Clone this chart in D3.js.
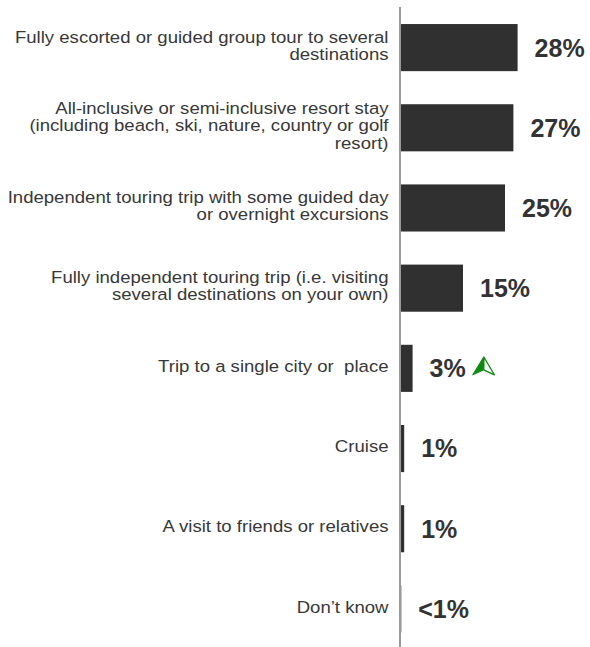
<!DOCTYPE html>
<html>
<head>
<meta charset="utf-8">
<script src="https://cdn.jsdelivr.net/npm/d3@7"></script>
<style>
  html, body { margin: 0; padding: 0; background: #fff; }
  svg { display: block; }
  text { font-family: "Liberation Sans", Arial, sans-serif; }
</style>
</head>
<body>
<script>
// Preferred type of trip, share of respondents
const categories = [
  "Fully escorted or guided group tour to several\ndestinations",
  "All-inclusive or semi-inclusive resort stay\n(including beach, ski, nature, country or golf\nresort)",
  "Independent touring trip with some guided day\nor overnight excursions",
  "Fully independent touring trip (i.e. visiting\nseveral destinations on your own)",
  "Trip to a single city or  place",
  "Cruise",
  "A visit to friends or relatives",
  "Don\u2019t know"
];
const values = [28, 27, 25, 15, 3, 1, 1, 0.3];
const valueLabels = ["28%", "27%", "25%", "15%", "3%", "1%", "1%", "<1%"];
const trendUp = [false, false, false, false, true, false, false, false];

const width = 590, height = 647;
const svg = d3.select("body").append("svg")
  .attr("width", width).attr("height", height);

const x = d3.scaleLinear().domain([0, 28]).range([400, 517.6]);
const y = d3.scaleBand()
  .domain(d3.range(categories.length))
  .range([7.5, 649])
  .paddingInner(0.4125)
  .paddingOuter(0.20625);

const rows = svg.append("g").selectAll("g")
  .data(categories.map((c, i) => ({ label: c, value: values[i], text: valueLabels[i], up: trendUp[i], i })))
  .join("g");

// bars
rows.append("rect")
  .attr("x", x(0))
  .attr("y", d => y(d.i))
  .attr("width", d => x(d.value) - x(0))
  .attr("height", y.bandwidth())
  .attr("fill", "#303030");

// category labels, right-aligned against the axis (slightly wide face)
const fs = 17.2, lh = 17.3;
rows.append("text")
  .attr("text-anchor", "end")
  .attr("font-size", fs)
  .attr("fill", "#383838")
  .attr("transform", "translate(388.5,0) scale(1.08,1)")
  .style("white-space", "pre")
  .each(function (d) {
    const lines = d.label.split("\n");
    const cy = y(d.i) + y.bandwidth() / 2;
    const first = cy - 2.5 - (lines.length - 1) * lh / 2 + 0.358 * fs;
    d3.select(this).selectAll("tspan")
      .data(lines)
      .join("tspan")
      .attr("x", 0)
      .attr("y", (t, k) => first + k * lh)
      .text(t => t);
  });

// value labels
const vfs = 25;
rows.append("text")
  .attr("class", "val")
  .attr("x", d => x(d.value) + 17)
  .attr("y", d => y(d.i) + y.bandwidth() / 2 + 0.358 * vfs)
  .attr("font-size", vfs)
  .attr("font-weight", "bold")
  .attr("fill", "#333")
  .text(d => d.text);

// upward trend marker
rows.filter(d => d.up).each(function (d) {
  const t = d3.select(this).select("text.val").node();
  const x0 = x(d.value) + 17 + t.getComputedTextLength() + 7;
  const cy = y(d.i) + y.bandwidth() / 2;
  const apex = [x0 + 11, cy - 11.5], left = [x0, cy + 6.5],
        right = [x0 + 21.7, cy + 6.5], notch = [x0 + 11, cy + 1.5];
  const g = d3.select(this).append("g");
  g.append("path")
    .attr("d", d3.line()([apex, notch, right, apex]))
    .attr("fill", "#ffffff")
    .attr("stroke", "#118a11")
    .attr("stroke-width", 1.2)
    .attr("stroke-linejoin", "round");
  g.append("path")
    .attr("d", d3.line()([apex, left, notch]) + "Z")
    .attr("fill", "#0c8a0c")
    .attr("stroke", "#0c8a0c")
    .attr("stroke-width", 1)
    .attr("stroke-linejoin", "round");
});

// vertical axis line
svg.append("line")
  .attr("x1", 400).attr("x2", 400)
  .attr("y1", 7).attr("y2", height)
  .attr("stroke", "#999")
  .attr("stroke-width", 2);
</script>
</body>
</html>
